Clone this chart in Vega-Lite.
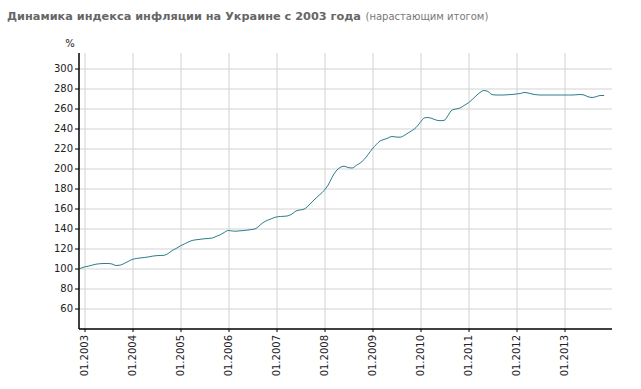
{
  "$schema": "https://vega.github.io/schema/vega-lite/v6.json",
  "width": 533,
  "height": 276,
  "autosize": "none",
  "padding": {"left": 78.5, "top": 52.5, "right": 29.5, "bottom": 60.5},
  "background": "#ffffff",
  "config": {
    "font": "DejaVu Sans",
    "view": {"stroke": null}
  },
  "title": {
    "text": "Динамика индекса инфляции на Украине с 2003 года",
    "anchor": "start",
    "frame": "group",
    "font": "DejaVu Sans",
    "fontSize": 11.3,
    "fontWeight": "bold",
    "color": "#666666",
    "dx": -71.5,
    "offset": 0,
    "dy": 11
  },
  "data": {
    "values": [
      {"date": "2002-12-01", "v": 100},
      {"date": "2003-01-01", "v": 101.5},
      {"date": "2003-02-01", "v": 102.3},
      {"date": "2003-03-01", "v": 103.3},
      {"date": "2003-04-01", "v": 104.3},
      {"date": "2003-05-01", "v": 104.8},
      {"date": "2003-06-01", "v": 105},
      {"date": "2003-07-01", "v": 105},
      {"date": "2003-08-01", "v": 104.5},
      {"date": "2003-09-01", "v": 103},
      {"date": "2003-10-01", "v": 103.3},
      {"date": "2003-11-01", "v": 105},
      {"date": "2003-12-01", "v": 107},
      {"date": "2004-01-01", "v": 109},
      {"date": "2004-02-01", "v": 110},
      {"date": "2004-03-01", "v": 110.5},
      {"date": "2004-04-01", "v": 111},
      {"date": "2004-05-01", "v": 111.5},
      {"date": "2004-06-01", "v": 112.3},
      {"date": "2004-07-01", "v": 112.8},
      {"date": "2004-08-01", "v": 113},
      {"date": "2004-09-01", "v": 113.2},
      {"date": "2004-10-01", "v": 115},
      {"date": "2004-11-01", "v": 118},
      {"date": "2004-12-01", "v": 120},
      {"date": "2005-01-01", "v": 122.5},
      {"date": "2005-02-01", "v": 124.5},
      {"date": "2005-03-01", "v": 126.3},
      {"date": "2005-04-01", "v": 128},
      {"date": "2005-05-01", "v": 128.7},
      {"date": "2005-06-01", "v": 129.2},
      {"date": "2005-07-01", "v": 129.7},
      {"date": "2005-08-01", "v": 130},
      {"date": "2005-09-01", "v": 130.5},
      {"date": "2005-10-01", "v": 132},
      {"date": "2005-11-01", "v": 133.7},
      {"date": "2005-12-01", "v": 136},
      {"date": "2006-01-01", "v": 138},
      {"date": "2006-02-01", "v": 137.5},
      {"date": "2006-03-01", "v": 137.3},
      {"date": "2006-04-01", "v": 137.7},
      {"date": "2006-05-01", "v": 138},
      {"date": "2006-06-01", "v": 138.5},
      {"date": "2006-07-01", "v": 139},
      {"date": "2006-08-01", "v": 140},
      {"date": "2006-09-01", "v": 143.5},
      {"date": "2006-10-01", "v": 146.5},
      {"date": "2006-11-01", "v": 148.5},
      {"date": "2006-12-01", "v": 150},
      {"date": "2007-01-01", "v": 151.5},
      {"date": "2007-02-01", "v": 152},
      {"date": "2007-03-01", "v": 152.2},
      {"date": "2007-04-01", "v": 152.7},
      {"date": "2007-05-01", "v": 154.5},
      {"date": "2007-06-01", "v": 157.5},
      {"date": "2007-07-01", "v": 158.5},
      {"date": "2007-08-01", "v": 159.3},
      {"date": "2007-09-01", "v": 162.5},
      {"date": "2007-10-01", "v": 166.5},
      {"date": "2007-11-01", "v": 170.5},
      {"date": "2007-12-01", "v": 174},
      {"date": "2008-01-01", "v": 178},
      {"date": "2008-02-01", "v": 183.5},
      {"date": "2008-03-01", "v": 191},
      {"date": "2008-04-01", "v": 197.5},
      {"date": "2008-05-01", "v": 201},
      {"date": "2008-06-01", "v": 202.3},
      {"date": "2008-07-01", "v": 201},
      {"date": "2008-08-01", "v": 200.5},
      {"date": "2008-09-01", "v": 203},
      {"date": "2008-10-01", "v": 205.5},
      {"date": "2008-11-01", "v": 209},
      {"date": "2008-12-01", "v": 214},
      {"date": "2009-01-01", "v": 219.5},
      {"date": "2009-02-01", "v": 224},
      {"date": "2009-03-01", "v": 227.5},
      {"date": "2009-04-01", "v": 229},
      {"date": "2009-05-01", "v": 230.5},
      {"date": "2009-06-01", "v": 232},
      {"date": "2009-07-01", "v": 231.5},
      {"date": "2009-08-01", "v": 231.3},
      {"date": "2009-09-01", "v": 233},
      {"date": "2009-10-01", "v": 235.5},
      {"date": "2009-11-01", "v": 238},
      {"date": "2009-12-01", "v": 241},
      {"date": "2010-01-01", "v": 246},
      {"date": "2010-02-01", "v": 250.5},
      {"date": "2010-03-01", "v": 251},
      {"date": "2010-04-01", "v": 250},
      {"date": "2010-05-01", "v": 248.5},
      {"date": "2010-06-01", "v": 247.8},
      {"date": "2010-07-01", "v": 248},
      {"date": "2010-08-01", "v": 253},
      {"date": "2010-09-01", "v": 258.5},
      {"date": "2010-10-01", "v": 259.5},
      {"date": "2010-11-01", "v": 260.5},
      {"date": "2010-12-01", "v": 263},
      {"date": "2011-01-01", "v": 265.5},
      {"date": "2011-02-01", "v": 269},
      {"date": "2011-03-01", "v": 272.5},
      {"date": "2011-04-01", "v": 276},
      {"date": "2011-05-01", "v": 278},
      {"date": "2011-06-01", "v": 277},
      {"date": "2011-07-01", "v": 274},
      {"date": "2011-08-01", "v": 273.5},
      {"date": "2011-09-01", "v": 273.5},
      {"date": "2011-10-01", "v": 273.5},
      {"date": "2011-11-01", "v": 273.8},
      {"date": "2011-12-01", "v": 274},
      {"date": "2012-01-01", "v": 274.5},
      {"date": "2012-02-01", "v": 275},
      {"date": "2012-03-01", "v": 276},
      {"date": "2012-04-01", "v": 275.5},
      {"date": "2012-05-01", "v": 274.5},
      {"date": "2012-06-01", "v": 273.8},
      {"date": "2012-07-01", "v": 273.5},
      {"date": "2012-08-01", "v": 273.5},
      {"date": "2012-09-01", "v": 273.5},
      {"date": "2012-10-01", "v": 273.5},
      {"date": "2012-11-01", "v": 273.5},
      {"date": "2012-12-01", "v": 273.5},
      {"date": "2013-01-01", "v": 273.5},
      {"date": "2013-02-01", "v": 273.5},
      {"date": "2013-03-01", "v": 273.5},
      {"date": "2013-04-01", "v": 273.7},
      {"date": "2013-05-01", "v": 274},
      {"date": "2013-06-01", "v": 273.5},
      {"date": "2013-07-01", "v": 271.8},
      {"date": "2013-08-01", "v": 271},
      {"date": "2013-09-01", "v": 271.8},
      {"date": "2013-10-01", "v": 273},
      {"date": "2013-11-01", "v": 273}
    ]
  },
  "mark": {"type": "line", "color": "#2b7d8c", "strokeWidth": 1, "interpolate": "monotone"},
  "encoding": {
    "x": {
      "field": "date",
      "type": "temporal",
      "scale": {
        "type": "utc",
        "domain": [
          {"year": 2002, "month": 11, "date": 19, "utc": true},
          {"year": 2013, "month": 12, "date": 27, "utc": true}
        ]
      },
      "axis": {
        "values": [
          {"year": 2003, "month": 1, "date": 1, "utc": true},
          {"year": 2004, "month": 1, "date": 1, "utc": true},
          {"year": 2005, "month": 1, "date": 1, "utc": true},
          {"year": 2006, "month": 1, "date": 1, "utc": true},
          {"year": 2007, "month": 1, "date": 1, "utc": true},
          {"year": 2008, "month": 1, "date": 1, "utc": true},
          {"year": 2009, "month": 1, "date": 1, "utc": true},
          {"year": 2010, "month": 1, "date": 1, "utc": true},
          {"year": 2011, "month": 1, "date": 1, "utc": true},
          {"year": 2012, "month": 1, "date": 1, "utc": true},
          {"year": 2013, "month": 1, "date": 1, "utc": true}
        ],
        "format": "%m.%Y",
        "labelAngle": -90,
        "labelFont": "DejaVu Sans",
        "labelFontSize": 10,
        "labelColor": "#222222",
        "labelPadding": 3,
        "labelFlush": false,
        "labelOverlap": false,
        "domainColor": "#000000",
        "domainWidth": 1.5,
        "tickColor": "#000000",
        "tickSize": 3,
        "gridColor": "#d3d3d3",
        "gridWidth": 1,
        "grid": true,
        "title": "(нарастающим итогом)",
        "titleFont": "DejaVu Sans",
        "titleFontSize": 10,
        "titleFontWeight": "normal",
        "titleColor": "#777777",
        "titleAlign": "left",
        "titleAnchor": null,
        "titleBaseline": "alphabetic",
        "titleX": 286.5,
        "titleY": -309.5
      }
    },
    "y": {
      "field": "v",
      "type": "quantitative",
      "scale": {"domain": [40, 316], "nice": false, "zero": false},
      "axis": {
        "values": [60, 80, 100, 120, 140, 160, 180, 200, 220, 240, 260, 280, 300],
        "labelFont": "DejaVu Sans",
        "labelFontSize": 10,
        "labelColor": "#222222",
        "labelPadding": 2,
        "domainColor": "#000000",
        "domainWidth": 1.5,
        "tickColor": "#000000",
        "tickSize": 4,
        "gridColor": "#d3d3d3",
        "gridWidth": 1,
        "title": "%",
        "titleFont": "DejaVu Sans",
        "titleFontSize": 10,
        "titleFontWeight": "normal",
        "titleColor": "#222222",
        "titleAngle": 0,
        "titleAlign": "center",
        "titleBaseline": "middle",
        "titleAnchor": null,
        "titleX": -9,
        "titleY": -9
      }
    }
  }
}
